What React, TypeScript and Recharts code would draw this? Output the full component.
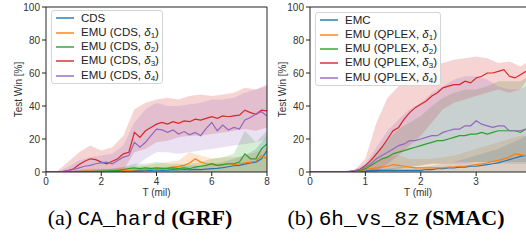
import React from 'react';
import { ComposedChart, Line, Area, XAxis, YAxis, ReferenceLine, Legend } from 'recharts';

// ---- GRF CA_hard (left) ----
const LEFT_T = [0, 0.2, 0.4, 0.6, 0.8, 1, 1.2, 1.4, 1.6, 1.8, 2, 2.2, 2.4, 2.6, 2.8, 3, 3.2, 3.4, 3.6, 3.8, 4, 4.2, 4.4, 4.6, 4.8, 5, 5.2, 5.4, 5.6, 5.8, 6, 6.2, 6.4, 6.6, 6.8, 7, 7.2, 7.4, 7.6, 7.8, 8];
const CDS = [0, 0, 0, 0, 0, 0, 0, 0.1, 0.2, 0.2, 0.3, 0.3, 0.4, 0.5, 0.4, 0.6, 0.8, 0.7, 1, 0.9, 1.2, 1, 1.1, 1.4, 1.2, 1.5, 1.3, 1.6, 1.5, 1.8, 2, 2.2, 2.6, 3.2, 3.8, 4, 4.8, 5.5, 6, 8, 13];
const CDS_D1 = [0, 0, 0, 0, 0, 0.2, 0.3, 0.5, 0.6, 0.4, 0.3, 0.4, 0.5, 0.6, 0.8, 1, 1.2, 1.5, 1.3, 1.8, 2, 2.3, 2.5, 3, 3.4, 4, 5.5, 8, 6, 5, 4.5, 4, 4.5, 5, 4.5, 5, 5.5, 6, 6.5, 10, 8];
const CDS_D2 = [0, 0, 0, 0, 0, 0.1, 0.2, 0.3, 0.3, 0.4, 0.5, 0.6, 0.8, 1, 1.5, 2, 2.5, 2, 2.5, 2, 2.5, 2, 2.2, 2.5, 2, 2.5, 2, 3, 3.5, 4, 5, 4, 4.5, 5, 5, 6, 11, 8, 8, 14, 17];
const CDS_D3 = [0, 0, 0, 0.3, 0.8, 2, 4.5, 6.5, 8, 7.5, 6, 5, 6.5, 8, 11, 12, 24, 21, 25, 27, 29, 30, 29, 30.5, 29.5, 31, 30.5, 32, 31.5, 32.5, 33.5, 32.5, 34, 33.5, 34, 34.5, 37.5, 36, 35, 37.5, 37];
const CDS_D4 = [0, 0, 0, 0.2, 0.8, 1.5, 2.5, 3.5, 4, 5, 5.5, 6, 5, 7, 9, 10, 18, 15, 18, 22, 26, 25.5, 24, 25.5, 23, 24.5, 22.5, 24, 22, 26.5, 30, 25, 28.5, 25.5, 27, 26, 31.5, 33, 35, 36.5, 34];

const LEFT_BAND_T = [0, 0.4, 0.8, 1.2, 1.6, 2, 2.4, 2.8, 3.2, 3.6, 4, 4.4, 4.8, 5.2, 5.6, 6, 6.4, 6.8, 7.2, 7.6, 8];
const LEFT_ZERO = [0, 0, 0, 0, 0, 0, 0, 0, 0, 0, 0, 0, 0, 0, 0, 0, 0, 0, 0, 0, 0];
const CDS_HI = [0, 0, 0.5, 1, 1.5, 1.5, 2, 2, 2.5, 3, 3, 3, 3.5, 4, 4, 5, 6, 8, 10, 14, 22];
const CDS_D1_HI = [0, 0, 0.5, 1.5, 2, 2, 2, 3, 3.5, 4, 5, 6, 7, 12, 10, 8, 9, 9, 10, 12, 15];
const CDS_D2_HI = [0, 0, 0.5, 1, 1, 1.5, 2, 3, 5, 5, 6, 5, 5, 5, 6, 8, 9, 11, 25, 18, 25];
const CDS_D3_LO = [0, 0, 0, 0, 0, 0, 0, 1, 12, 14, 18, 19, 21, 22, 22, 23, 24, 25, 26, 25, 27];
const CDS_D3_HI = [0, 0.5, 6, 12, 16, 13, 15, 22, 38, 42, 44, 45, 44, 46, 47, 46, 47, 48, 51, 50, 53];
const CDS_D4_LO = [0, 0, 0, 0, 0, 0, 0, 1, 3, 8, 12, 12, 11, 12, 13, 14, 15, 16, 17, 18, 20];
const CDS_D4_HI = [0, 0.2, 3, 7, 9, 10, 11, 16, 30, 38, 42, 40, 40, 41, 42, 44, 44, 45, 48, 50, 52];

// ---- SMAC 6h_vs_8z (right) ----
const RIGHT_T = [0, 0.1, 0.2, 0.3, 0.4, 0.5, 0.6, 0.7, 0.8, 0.9, 1, 1.1, 1.2, 1.3, 1.4, 1.5, 1.6, 1.7, 1.8, 1.9, 2, 2.1, 2.2, 2.3, 2.4, 2.5, 2.6, 2.7, 2.8, 2.9, 3, 3.1, 3.2, 3.3, 3.4, 3.5, 3.6, 3.7, 3.8, 3.9];
const EMC = [0, 0, 0, 0, 0, 0, 0, 0, 0, 0.2, 0.5, 1, 1, 1, 1, 1, 1, 1, 1, 1, 1, 1.5, 1.5, 2, 2, 2.5, 2.5, 3, 3, 3.5, 3.5, 4, 4.5, 5, 5.5, 6.5, 7.5, 8.5, 9.5, 10];
const QP_D1 = [0, 0, 0, 0, 0, 0, 0, 0, 0.2, 0.5, 1.5, 2, 2.5, 3, 3.5, 4.5, 4, 3.5, 3, 2.5, 2.5, 2.5, 2.5, 2.5, 2.5, 3, 3, 3.5, 3.5, 4, 4.5, 5, 5.5, 6.5, 7, 8, 9, 11, 10.5, 10];
const QP_D2 = [0, 0, 0, 0, 0, 0, 0, 0, 0.5, 1, 2, 4, 6, 8, 9, 11, 12, 13, 14, 15, 16, 17, 18, 19, 19, 20, 21, 22, 22, 23, 23, 24, 23, 24, 25, 25, 25, 25, 24, 26];
const QP_D3 = [0, 0, 0, 0, 0, 0, 0, 0.2, 0.5, 1.5, 4, 7, 11, 15, 20, 25, 27, 32, 36, 39, 41, 43, 46, 48, 51, 52, 53, 53, 55, 54, 57, 58, 60, 60, 61, 62, 58, 57, 59, 61];
const QP_D4 = [0, 0, 0, 0, 0, 0, 0, 0.3, 0.8, 1.5, 3, 5, 8, 10, 12, 14, 16, 17, 19, 19, 20, 21, 22, 22, 24, 25, 26, 26, 28, 28, 31, 29, 28, 27, 28, 28, 25, 25, 25, 26];

const RIGHT_BAND_T = [0, 0.4, 0.8, 1, 1.2, 1.4, 1.6, 1.8, 2, 2.2, 2.4, 2.6, 2.8, 3, 3.2, 3.4, 3.6, 3.8, 3.9];
const RIGHT_ZERO = [0, 0, 0, 0, 0, 0, 0, 0, 0, 0, 0, 0, 0, 0, 0, 0, 0, 0, 0];
const EMC_HI = [0, 0, 0, 1, 2, 2, 3, 3, 3, 4, 5, 6, 8, 10, 12, 14, 17, 20, 22];
const QP_D1_HI = [0, 0, 0.5, 2, 6, 10, 10, 8, 8, 8, 9, 10, 12, 14, 16, 18, 20, 22, 22];
const QP_D2_LO = [0, 0, 0, 0, 0, 1, 2, 3, 4, 5, 5, 6, 6, 6, 6, 6, 6, 6, 6];
const QP_D2_HI = [0, 0, 1, 4, 12, 20, 26, 30, 34, 40, 45, 48, 50, 50, 52, 55, 55, 55, 57];
const QP_D3_LO = [0, 0, 0, 0, 0, 5, 10, 16, 22, 30, 38, 42, 44, 46, 48, 50, 48, 50, 55];
const QP_D3_HI = [0, 0, 1, 8, 30, 45, 52, 57, 62, 66, 66, 68, 69, 70, 69, 66, 67, 64, 66];
const QP_D4_LO = [0, 0, 0, 0, 0, 1, 2, 3, 4, 5, 5, 5, 5, 6, 6, 5, 5, 5, 5];
const QP_D4_HI = [0, 0, 1, 5, 15, 25, 32, 38, 42, 48, 52, 56, 58, 58, 56, 52, 50, 50, 52];

const Y_TICKS = [0, 20, 40, 60, 80, 100];
const LEFT_X_TICKS = [0, 2, 4, 6, 8];
const RIGHT_X_TICKS = [0, 1, 2, 3];

const COLORS = ['#1f77b4', '#ff7f0e', '#2ca02c', '#d62728', '#9467bd'];
const FONT = '"Liberation Sans", Arial, sans-serif';
const AXIS = '#222';

const toRows = (ts, vs) => ts.map((t, i) => ({ t, v: vs[i] }));
const toBand = (ts, lo, hi) => ts.map((t, i) => ({ t, band: [lo[i], hi[i]] }));

const leftSeries = [
  { base: 'CDS', sub: null, line: toRows(LEFT_T, CDS), band: toBand(LEFT_BAND_T, LEFT_ZERO, CDS_HI) },
  { base: 'EMU (CDS, ', sub: '1', line: toRows(LEFT_T, CDS_D1), band: toBand(LEFT_BAND_T, LEFT_ZERO, CDS_D1_HI) },
  { base: 'EMU (CDS, ', sub: '2', line: toRows(LEFT_T, CDS_D2), band: toBand(LEFT_BAND_T, LEFT_ZERO, CDS_D2_HI) },
  { base: 'EMU (CDS, ', sub: '3', line: toRows(LEFT_T, CDS_D3), band: toBand(LEFT_BAND_T, CDS_D3_LO, CDS_D3_HI) },
  { base: 'EMU (CDS, ', sub: '4', line: toRows(LEFT_T, CDS_D4), band: toBand(LEFT_BAND_T, CDS_D4_LO, CDS_D4_HI) },
];

const rightSeries = [
  { base: 'EMC', sub: null, line: toRows(RIGHT_T, EMC), band: toBand(RIGHT_BAND_T, RIGHT_ZERO, EMC_HI) },
  { base: 'EMU (QPLEX, ', sub: '1', line: toRows(RIGHT_T, QP_D1), band: toBand(RIGHT_BAND_T, RIGHT_ZERO, QP_D1_HI) },
  { base: 'EMU (QPLEX, ', sub: '2', line: toRows(RIGHT_T, QP_D2), band: toBand(RIGHT_BAND_T, QP_D2_LO, QP_D2_HI) },
  { base: 'EMU (QPLEX, ', sub: '3', line: toRows(RIGHT_T, QP_D3), band: toBand(RIGHT_BAND_T, QP_D3_LO, QP_D3_HI) },
  { base: 'EMU (QPLEX, ', sub: '4', line: toRows(RIGHT_T, QP_D4), band: toBand(RIGHT_BAND_T, QP_D4_LO, QP_D4_HI) },
];

function LegendBox({ series }) {
  return (
    <div style={{
      border: '1px solid #d4d4d4', borderRadius: 3, background: 'rgba(255,255,255,0.85)',
      padding: '0 3px 0 3px', fontFamily: FONT, fontSize: 11.5, color: '#222',
    }}>
      {series.map((s, i) => (
        <div key={i} style={{ height: 14.4, display: 'flex', alignItems: 'center', whiteSpace: 'nowrap' }}>
          <svg width={26} height={6} style={{ flex: 'none' }}>
            <line x1={1} y1={3} x2={19} y2={3} stroke={COLORS[i]} strokeWidth={1.4} />
          </svg>
          <span>
            {s.base}
            {s.sub && (
              <>
                <i>δ</i>
                <sub style={{ fontSize: 8, verticalAlign: -2 }}>{s.sub}</sub>)
              </>
            )}
          </span>
        </div>
      ))}
    </div>
  );
}

function Panel({ series, width, domain, xTicks, rightSpine, legendTop }) {
  return (
    <ComposedChart width={width} height={200} margin={{ top: 7, right: rightSpine ? 3 : 0, bottom: 0, left: 0 }} style={{ fontFamily: FONT }}>
      <XAxis
        dataKey="t" type="number" domain={domain} ticks={xTicks} allowDataOverflow
        height={28} tickSize={4} tickMargin={2} stroke={AXIS}
        tick={{ fontSize: 10, fill: '#333' }}
        label={{ value: 'T (mil)', position: 'insideBottom', offset: 4, fontSize: 10, fill: '#333' }}
      />
      <YAxis
        type="number" domain={[0, 100]} ticks={Y_TICKS} allowDataOverflow
        width={46} tickSize={4} tickMargin={2} stroke={AXIS}
        tick={{ fontSize: 10, fill: '#333' }}
        label={{ value: 'Test Win [%]', angle: -90, position: 'insideLeft', offset: 18, fontSize: 10, fill: '#333', style: { textAnchor: 'middle' } }}
      />
      {series.map((s, i) => (
        <Area key={'b' + i} data={s.band} dataKey="band" type="linear" stroke="none"
          fill={COLORS[i]} fillOpacity={0.2} isAnimationActive={false} />
      ))}
      {series.map((s, i) => (
        <Line key={'l' + i} data={s.line} dataKey="v" type="linear" stroke={COLORS[i]}
          strokeWidth={1.2} dot={false} isAnimationActive={false} />
      ))}
      <ReferenceLine y={100} stroke={AXIS} strokeWidth={1} />
      {rightSpine && <ReferenceLine x={domain[1]} stroke={AXIS} strokeWidth={1} />}
      <Legend
        layout="vertical" align="center" verticalAlign="middle"
        wrapperStyle={{ left: 51, top: legendTop, width: 'auto', height: 'auto' }}
        content={() => <LegendBox series={series} />}
      />
    </ComposedChart>
  );
}

const captionStyle = { position: 'absolute', top: 205, fontFamily: '"Liberation Serif", "Times New Roman", serif', fontSize: 22, lineHeight: '26px', whiteSpace: 'nowrap', color: '#000' };
const mono = { fontFamily: '"Liberation Mono", "Courier New", monospace', fontSize: 21 };

export default function App() {
  return (
    <div style={{ position: 'absolute', left: 0, top: 0, width: 526, height: 243, background: '#fff', overflow: 'hidden' }}>
      <div style={{ position: 'absolute', left: 0, top: 0 }}>
        <Panel series={leftSeries} width={270} domain={[0, 8]} xTicks={LEFT_X_TICKS} rightSpine legendTop={10} />
      </div>
      <div style={{ position: 'absolute', left: 264, top: 0 }}>
        <Panel series={rightSeries} width={262} domain={[0, 3.9]} xTicks={RIGHT_X_TICKS} rightSpine={false} legendTop={12} />
      </div>
      <div style={{ ...captionStyle, left: 140, transform: 'translateX(-50%)' }}>
        (a) <span style={mono}>CA_hard</span> <b>(GRF)</b>
      </div>
      <div style={{ ...captionStyle, left: 396, transform: 'translateX(-50%)' }}>
        (b) <span style={mono}>6h_vs_8z</span> <b>(SMAC)</b>
      </div>
    </div>
  );
}
